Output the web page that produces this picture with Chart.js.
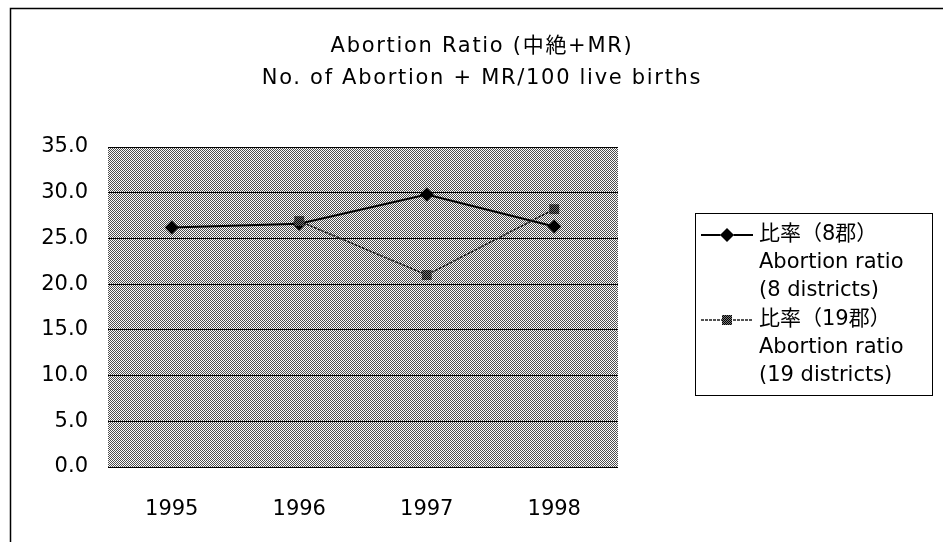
<!DOCTYPE html>
<html>
<head>
<meta charset="utf-8">
<script src="https://cdn.jsdelivr.net/npm/chart.js@4"></script>
<style>
  html, body { margin: 0; padding: 0; background: #fff; }
  #wrap { width: 943px; height: 542px; }
</style>
</head>
<body>
<div id="wrap"><canvas id="c" width="943" height="542"></canvas></div>
<script>
// Data
const years = ['1995', '1996', '1997', '1998'];
const ratio8 = [26.2, 26.6, 29.8, 26.3];      // 8 districts
const ratio19 = [null, 26.9, 21.0, 28.2];     // 19 districts (no 1995 value)
const label8 = ['比率（8郡）', 'Abortion ratio', '(8 districts)'];
const label19 = ['比率（19郡）', 'Abortion ratio', '(19 districts)'];
const titleLines = ['Abortion Ratio (中絶+MR)', 'No. of Abortion + MR/100 live births'];

const FONT = "'DejaVu Sans', 'Noto Sans CJK JP', sans-serif";
const canvas = document.getElementById('c');
const ctx = canvas.getContext('2d');

// small dither pattern like the old Excel fill
function dither(c1, c2){
  const pc = document.createElement('canvas');
  pc.width = 2; pc.height = 2;
  const p = pc.getContext('2d');
  p.fillStyle = c2; p.fillRect(0, 0, 2, 2);
  p.fillStyle = c1; p.fillRect(0, 0, 1, 1); p.fillRect(1, 1, 1, 1);
  return ctx.createPattern(pc, 'repeat');
}
const plotFill = dither('#4d4d4d', '#fcfcfc');
const markFill = dither('#000', '#7a7a7a');

// frame, title (wide letter spacing like the original) + plot background
const backdrop = {
  id: 'backdrop',
  beforeDraw(chart){
    const c = chart.ctx, a = chart.chartArea;
    c.save();
    c.strokeStyle = '#000';
    c.lineWidth = 1.5;
    c.strokeRect(10.5, 8.5, 1200, 1200);
    c.fillStyle = plotFill;
    c.fillRect(a.left, a.top, a.right - a.left, a.bottom - a.top);

    c.fillStyle = '#000';
    c.font = '21px ' + FONT;
    c.textAlign = 'center';
    c.textBaseline = 'middle';
    c.letterSpacing = '1.7px';
    titleLines.forEach((t, i) => c.fillText(t, 482, 47 + i * 32));
    c.restore();
  }
};

// legend box drawn by hand (multi-line labels)
const sideLegend = {
  id: 'sideLegend',
  afterDraw(chart){
    const c = chart.ctx;
    const box = { x: 695.5, y: 213.5, w: 237, h: 182 };
    c.save();
    c.strokeStyle = '#000';
    c.lineWidth = 1;
    c.fillStyle = '#fff';
    c.fillRect(box.x, box.y, box.w, box.h);
    c.strokeRect(box.x, box.y, box.w, box.h);
    const rowTop = [235, 320];
    chart.data.datasets.forEach((ds, i) => {
      const y = rowTop[i];
      c.strokeStyle = ds.borderColor;
      c.lineWidth = ds.borderWidth;
      c.setLineDash(ds.borderDash || []);
      c.beginPath(); c.moveTo(701, y); c.lineTo(753, y); c.stroke();
      c.setLineDash([]);
      Chart.helpers.drawPoint(c, {
        pointStyle: ds.pointStyle, radius: ds.pointRadius, rotation: 0, borderWidth: 0
      }, 727, y);
      c.fillStyle = ds.pointBackgroundColor;
      c.fill();
      c.fillStyle = '#000';
      c.font = '21px ' + FONT;
      c.textBaseline = 'middle';
      c.textAlign = 'left';
      ds.legendLines.forEach((t, k) => c.fillText(t, 759, y + k * 28));
    });
    c.restore();
  }
};

new Chart(canvas, {
  type: 'line',
  data: {
    labels: years,
    datasets: [
      {
        label: label8.join(' '),
        legendLines: label8,
        data: ratio8,
        borderColor: '#000',
        borderWidth: 2,
        pointStyle: 'rectRot',
        pointRadius: 7,
        pointBackgroundColor: '#000',
        pointBorderWidth: 0,
        order: 1
      },
      {
        label: label19.join(' '),
        legendLines: label19,
        data: ratio19,
        borderColor: '#1a1a1a',
        borderWidth: 1.5,
        borderDash: [3, 1],
        pointStyle: 'rect',
        pointRadius: 7,
        pointBackgroundColor: markFill,
        pointBorderWidth: 0,
        spanGaps: false,
        order: 0
      }
    ]
  },
  options: {
    responsive: false,
    animation: false,
    layout: { padding: { left: 20, right: 0, top: 147, bottom: 0 } },
    plugins: {
      legend: { display: false },
      tooltip: { enabled: false },
      title: { display: false }
    },
    scales: {
      x: {
        offset: true,
        grid: { display: false },
        border: { display: false },
        ticks: { color: '#000', padding: 22, font: { family: FONT, size: 21 } },
        afterFit(s){ s.height = 75; }
      },
      y: {
        min: 0, max: 35,
        ticks: {
          stepSize: 5, color: '#000', padding: 20,
          font: { family: FONT, size: 21 },
          callback: (v) => Number(v).toFixed(1)
        },
        grid: { color: '#000', lineWidth: 1, drawTicks: false },
        border: { display: false },
        afterFit(s){ s.width = 88; }
      },
      yPad: {
        position: 'right',
        display: true,
        grid: { display: false, drawTicks: false },
        border: { display: false },
        ticks: { display: false },
        afterFit(s){ s.width = 325; }
      }
    }
  },
  plugins: [backdrop, sideLegend]
});
</script>
</body>
</html>
